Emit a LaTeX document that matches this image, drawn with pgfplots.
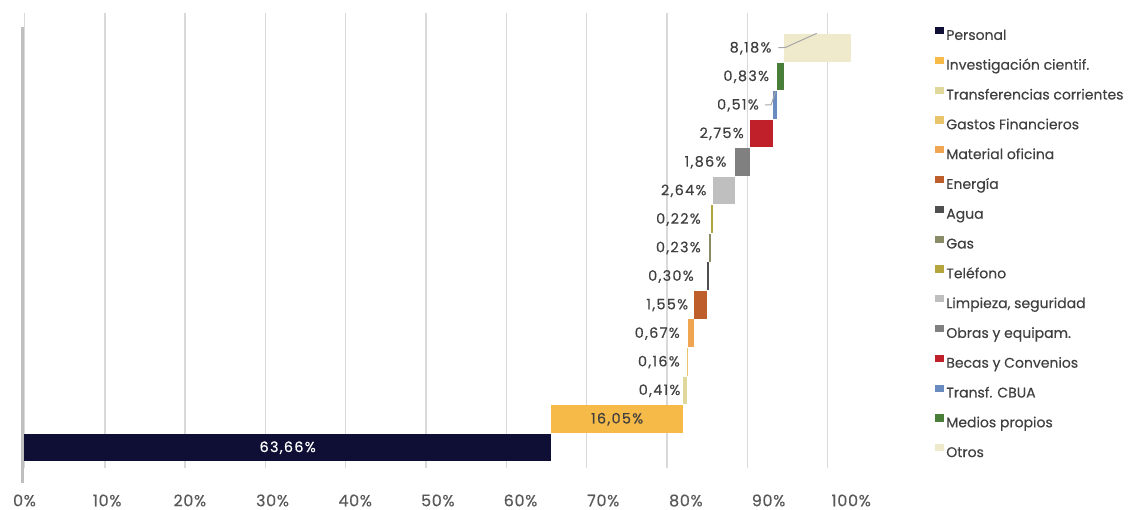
\documentclass[border=0pt]{standalone}
\usepackage{pgfplots}
\pgfplotsset{compat=1.18}
\usepackage{fontspec}
\setmainfont[FakeBold=0.35]{Poppins}
\newfontfamily\legfont[FakeBold=0.35]{Poppins}
\newfontfamily\tickfont[LetterSpace=4,FakeBold=0.35]{Poppins}
\newfontfamily\labfont[LetterSpace=9,FakeBold=0.35]{Poppins}
\definecolor{cPer}{HTML}{0F0F35}
\definecolor{cInv}{HTML}{F5BA47}
\definecolor{cTra}{HTML}{E0D89A}
\definecolor{cGas}{HTML}{E8C46A}
\definecolor{cMat}{HTML}{EFA552}
\definecolor{cEne}{HTML}{BE5E2A}
\definecolor{cAgu}{HTML}{4F4F4F}
\definecolor{cGs}{HTML}{8A8C68}
\definecolor{cTel}{HTML}{B5A53C}
\definecolor{cLim}{HTML}{BFBFBF}
\definecolor{cObr}{HTML}{808080}
\definecolor{cBec}{HTML}{C0202A}
\definecolor{cCbu}{HTML}{6A8BC0}
\definecolor{cMed}{HTML}{4A7F3A}
\definecolor{cOtr}{HTML}{F0EACC}
\definecolor{gridc}{HTML}{D9D9D9}
\definecolor{axc}{HTML}{BFBFBF}
\definecolor{tickc}{HTML}{595959}
\definecolor{labc}{HTML}{404040}
\definecolor{leadc}{HTML}{A6A6A6}
\tikzset{lab/.style={anchor=east, inner sep=0pt, text=labc, font=\labfont\fontsize{10.8}{12}\selectfont, text height=0.68em, text depth=0pt}}
\begin{document}
\begin{tikzpicture}[x=1pt,y=1pt]
\useasboundingbox (0,0) rectangle (846.75,382.5);
\begin{axis}[
  at={(18.375pt,31.5pt)}, anchor=south west,
  scale only axis, width=626.25pt, height=341.5pt,
  xmin=0, xmax=101, ymin=-0.718, ymax=15.235,
  axis line style={draw=none}, major tick length=0pt,
  xtick={0,10,20,30,40,50,60,70,80,90,100},
  xticklabels={0\%,10\%,20\%,30\%,40\%,50\%,60\%,70\%,80\%,90\%,100\%},
  extra x ticks={0,9.713,19.427,29.140,38.854,48.567,58.281,67.994,77.707,87.421,97.134},
  extra x tick labels={},
  extra x tick style={grid=major, major grid style={color=gridc, line width=1.1pt}},
  ytick=\empty,
  xticklabel style={font=\tickfont\fontsize{12}{13}\selectfont, text=tickc, anchor=north, inner sep=0pt, text height=0.7em, text depth=0pt, yshift=-21.5pt},
  clip=false,
  legend cell align=left,
  legend image code/.code={\fill[#1] (0pt,0.5pt) rectangle (7pt,6pt);},
  legend style={at={(axis description cs:1.0904,0.9686)}, anchor=north west, draw=none, fill=none,
    inner sep=0pt, outer sep=0pt, row sep=12.65pt, font=\legfont\fontsize{10.5}{12}\selectfont, text=labc,
    nodes={inner sep=0pt, text height=7.4pt, text depth=0pt},
    /tikz/every odd column/.style={column sep=1.5pt}},
]
\addplot[fill=cPer, draw=none] coordinates {(0,-0.485) (63.66,-0.485) (63.66,0.485) (0,0.485)} --cycle;
\addplot[fill=cInv, draw=none] coordinates {(63.66,0.515) (79.71,0.515) (79.71,1.485) (63.66,1.485)} --cycle;
\addplot[fill=cTra, draw=none] coordinates {(79.71,1.515) (80.12,1.515) (80.12,2.485) (79.71,2.485)} --cycle;
\addplot[fill=cGas, draw=none] coordinates {(80.12,2.515) (80.28,2.515) (80.28,3.485) (80.12,3.485)} --cycle;
\addplot[fill=cMat, draw=none] coordinates {(80.28,3.515) (80.95,3.515) (80.95,4.485) (80.28,4.485)} --cycle;
\addplot[fill=cEne, draw=none] coordinates {(80.95,4.515) (82.50,4.515) (82.50,5.485) (80.95,5.485)} --cycle;
\addplot[fill=cAgu, draw=none] coordinates {(82.50,5.515) (82.80,5.515) (82.80,6.485) (82.50,6.485)} --cycle;
\addplot[fill=cGs, draw=none] coordinates {(82.80,6.515) (83.03,6.515) (83.03,7.485) (82.80,7.485)} --cycle;
\addplot[fill=cTel, draw=none] coordinates {(83.03,7.515) (83.25,7.515) (83.25,8.485) (83.03,8.485)} --cycle;
\addplot[fill=cLim, draw=none] coordinates {(83.25,8.515) (85.89,8.515) (85.89,9.485) (83.25,9.485)} --cycle;
\addplot[fill=cObr, draw=none] coordinates {(85.89,9.515) (87.75,9.515) (87.75,10.485) (85.89,10.485)} --cycle;
\addplot[fill=cBec, draw=none] coordinates {(87.75,10.515) (90.50,10.515) (90.50,11.485) (87.75,11.485)} --cycle;
\addplot[fill=cCbu, draw=none] coordinates {(90.50,11.515) (91.01,11.515) (91.01,12.485) (90.50,12.485)} --cycle;
\addplot[fill=cMed, draw=none] coordinates {(91.01,12.515) (91.84,12.515) (91.84,13.485) (91.01,13.485)} --cycle;
\addplot[fill=cOtr, draw=none] coordinates {(91.84,13.515) (100.02,13.515) (100.02,14.485) (91.84,14.485)} --cycle;
\legend{Personal, Investigación cientif., Transferencias corrientes, Gastos Financieros, Material oficina, Energía, Agua, Gas, Teléfono, {Limpieza, seguridad}, Obras y equipam., Becas y Convenios, Transf. CBUA, Medios propios, Otros}
\draw[color=axc, line width=2.2pt] (axis cs:-0.22,-1.244) -- (axis cs:-0.22,14.73);
\draw[color=leadc, line width=0.75pt] (axis cs:91.18,14.01) -- (axis cs:91.99,14.01) -- (axis cs:95.83,14.51);
\draw[color=leadc, line width=0.75pt] (axis cs:89.57,12.0) -- (axis cs:90.30,12.0) -- (axis cs:90.84,12.47);
\node[lab, anchor=center, text=white] at (axis cs:31.83,0) {63,66\%};
\node[lab, anchor=center] at (axis cs:71.685,1) {16,05\%};
\node[lab] at (axis cs:79.37,2) {0,41\%};
\node[lab] at (axis cs:79.29,3) {0,16\%};
\node[lab] at (axis cs:79.29,4) {0,67\%};
\node[lab] at (axis cs:80.30,5) {1,55\%};
\node[lab] at (axis cs:80.98,6) {0,30\%};
\node[lab] at (axis cs:81.83,7) {0,23\%};
\node[lab] at (axis cs:81.83,8) {0,22\%};
\node[lab] at (axis cs:82.52,9) {2,64\%};
\node[lab] at (axis cs:84.94,10) {1,86\%};
\node[lab] at (axis cs:87.03,11) {2,75\%};
\node[lab] at (axis cs:88.85,12) {0,51\%};
\node[lab] at (axis cs:90.09,13) {0,83\%};
\node[lab] at (axis cs:90.38,14) {8,18\%};
\end{axis}
\end{tikzpicture}
\end{document}
